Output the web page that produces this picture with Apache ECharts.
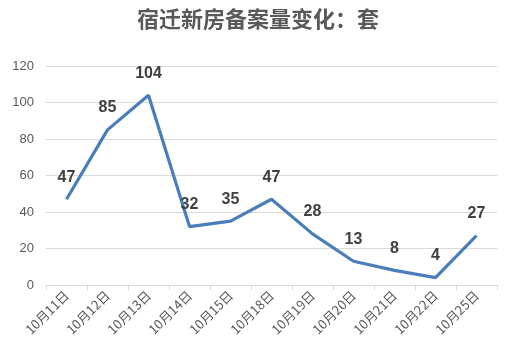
<!DOCTYPE html>
<html><head><meta charset="utf-8">
<script src="https://cdn.jsdelivr.net/npm/echarts@6/dist/echarts.min.js"></script>
<style>html,body{margin:0;padding:0;background:#fff}#c{width:516px;height:362px}</style>
</head><body><div id="c"></div>
<script>
const titleText = '宿迁新房备案量变化：套';
const categories = ['10月11日','10月12日','10月13日','10月14日','10月15日','10月18日','10月19日','10月20日','10月21日','10月22日','10月25日'];
const values = [47, 85, 104, 32, 35, 47, 28, 13, 8, 4, 27];
const yTicks = {min: 0, max: 120, interval: 20};

const chart = echarts.init(document.getElementById('c'));
chart.setOption({
  animation: false,
  title: {
    text: titleText, left: 'center', top: 3,
    textStyle: {fontFamily: 'Noto Sans CJK SC', fontSize: 22, fontWeight: 'bold', color: '#595959'}
  },
  grid: {left: 46, right: 19, top: 66, bottom: 77, containLabel: false},
  xAxis: {
    type: 'category', data: categories, boundaryGap: true,
    axisLine: {lineStyle: {color: '#d9d9d9', width: 1}},
    axisTick: {show: true, alignWithLabel: false, length: 5, lineStyle: {color: '#d9d9d9'}},
    axisLabel: {rotate: 45, interval: 0, color: '#595959', fontSize: 13, fontFamily: 'Noto Sans CJK SC', margin: 8}
  },
  yAxis: {
    type: 'value', min: yTicks.min, max: yTicks.max, interval: yTicks.interval,
    axisLine: {show: false}, axisTick: {show: false},
    splitLine: {lineStyle: {color: '#d9d9d9', width: 1}},
    axisLabel: {color: '#595959', fontSize: 13, fontFamily: 'Liberation Sans', margin: 12}
  },
  series: [{
    type: 'line', data: values, symbol: 'circle', symbolSize: 4, showSymbol: true,
    itemStyle: {color: 'rgba(0,0,0,0)', borderWidth: 0},
    lineStyle: {color: '#4a7ebb', width: 3.2},
    label: {show: true, position: 'top', distance: 12, color: '#404040', fontSize: 16, fontWeight: 'bold', fontFamily: 'Liberation Sans', opacity: 1}
  }]
});
</script></body></html>
